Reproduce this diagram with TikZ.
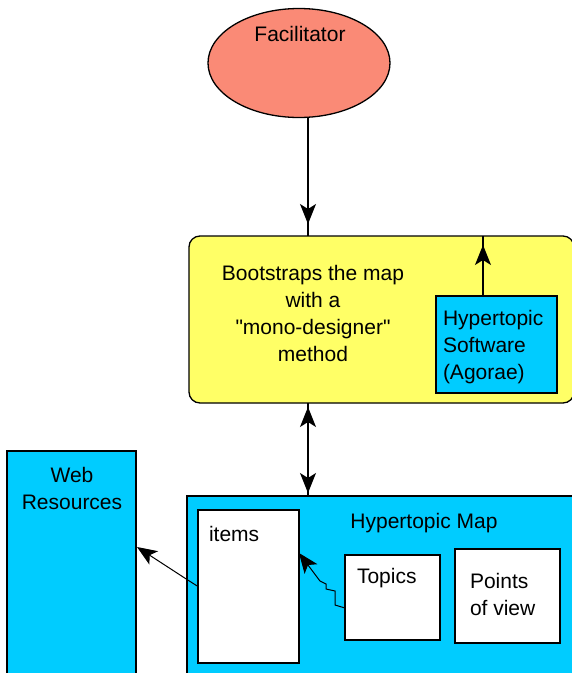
\documentclass[tikz,border=0pt]{standalone}
\usepackage{fontspec}
\setmainfont{Liberation Sans}[Ligatures=TeXOff]
\usetikzlibrary{shapes.geometric,arrows.meta,calc}

\definecolor{facsalmon}{RGB}{250,138,118}
\definecolor{bootyellow}{RGB}{255,255,102}
\definecolor{mapblue}{RGB}{0,204,255}

\begin{document}
\begin{tikzpicture}[x=1pt,y=-1pt,
  lbl/.style={font=\fontsize{21}{27}\selectfont, inner sep=0pt, outer sep=0pt},
  panel/.style={draw=black, line width=1.3pt, inner sep=0pt, outer sep=0pt, anchor=north west},
  conn/.style={line width=1.3pt},
  headtip/.style={-{Stealth[length=20pt,width=16pt,inset=5pt]}},
]
\useasboundingbox (0,0) rectangle (572,673);

% Facilitator
\node[ellipse, draw=black, line width=1.3pt, fill=facsalmon,
      minimum width=182pt, minimum height=109pt, inner sep=0pt] (fac) at (299,63) {};
\node[lbl] (facl) at (300,34) {Facilitator};

% bootstrapping step
\node[panel, fill=bootyellow, rounded corners=11pt,
      minimum width=385pt, minimum height=167pt] (boot) at (189,236) {};
\node[lbl, align=center] (bootl) at (313,313.5)
  {Bootstraps the map\\with a\\"mono-designer"\\method};

% software
\node[panel, fill=mapblue, minimum width=121pt, minimum height=97pt] (soft) at (436,296) {};
\node[lbl, align=left, anchor=west] (softl) at (443,347)
  {Hypertopic\\Software\\(Agorae)};

% web resources
\node[panel, fill=mapblue, minimum width=129pt, minimum height=240pt] (web) at (7,451) {};
\node[lbl, align=center] (webl) at (72,488) {Web\\Resources};

% hypertopic map
\node[panel, fill=mapblue, minimum width=390pt, minimum height=190pt] (map) at (187,496) {};
\node[lbl] (mapl) at (424,523) {Hypertopic Map};

\node[panel, fill=white, minimum width=101pt, minimum height=153pt] (items) at (198,510) {};
\node[lbl, anchor=west] (itemsl) at (209,534) {items};

\node[panel, fill=white, minimum width=95pt, minimum height=85pt] (topics) at (345,555) {};
\node[lbl, anchor=west] (topicsl) at (357,578) {Topics};

\node[panel, fill=white, minimum width=105pt, minimum height=94pt] (pov) at (455,549) {};
\node[lbl, align=left, anchor=west] (povl) at (470,594) {Points\\of view};

% connectors
\coordinate (ax) at (308,0);
\coordinate (bx) at (483,0);

\draw[conn] (fac.south -| ax) -- (boot.north -| ax);
\draw[conn, headtip, shorten >=12pt] (fac.south -| ax) -- (boot.north -| ax);

\draw[conn] (soft.north -| bx) -- (boot.north -| bx);
\draw[conn, headtip, shorten >=9pt] (soft.north -| bx) -- (boot.north -| bx);

\draw[conn] (boot.south -| ax) -- (map.north -| ax);
\draw[conn, headtip, shorten >=3pt] (boot.south -| ax) -- (map.north -| ax);
\draw[conn, headtip, shorten >=4pt] (map.north -| ax) -- (boot.south -| ax);

\draw[line width=1pt, headtip] (items.west) -- ++(-11,-7) -- ($(web.north east)+(1,96)$);

\draw[line width=1pt, headtip] ($(topics.west)+(0,10.5)$)
  -- ++(-10,-3) -- ++(0,-14) -- ++(-9,-2) -- ++(0,-5) -- ++(-6,-3)
  -- ($(items.north east)+(0,43)$);
\end{tikzpicture}
\end{document}
